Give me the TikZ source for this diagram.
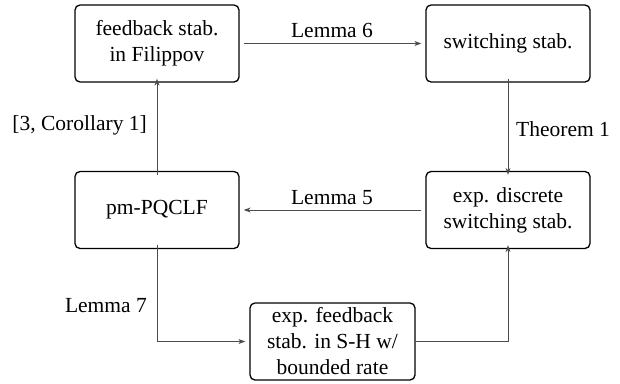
\documentclass[tikz,border=0pt]{standalone}
\usepackage{fontspec}
\setmainfont{Liberation Serif}
\newfontfamily\tmsfont{Liberation Serif}
\usetikzlibrary{arrows.meta}
\begin{document}
\begin{tikzpicture}[x=1pt,y=-1pt,
  box/.style={draw=black,line width=1.3pt,rounded corners=5pt,minimum width=164pt,minimum height=77pt,align=center,inner sep=0pt,font=\tmsfont\fontsize{21.5}{26}\selectfont},
  conn/.style={draw=black!70,line width=0.9pt,-{Stealth[length=7pt,width=5pt]}},
  lab/.style={font=\tmsfont\fontsize{21.5}{26}\selectfont,inner sep=0pt}]
\useasboundingbox (0,0) rectangle (620,383);
\node[box] (fil) at (157,43.5) {feedback stab.\\in Filippov};
\node[box] (sw) at (508,43.5) {switching stab.};
\node[box] (pm) at (157,210) {pm-PQCLF};
\node[box] (ed) at (508,210) {exp. discrete\\switching stab.};
\node[box,minimum width=165pt] (sh) at (332.5,341.5) {exp. feedback\\stab. in S-H w/\\bounded rate};
\draw[conn] ([xshift=4pt]fil.east) -- ([xshift=-4pt]sw.west);
\node[lab,anchor=base] (l6) at (332,37) {Lemma 6};
\draw[conn] ([yshift=4pt]sw.south) -- ([yshift=-4pt]ed.north);
\node[lab,anchor=base west] (t1) at (516,136) {Theorem 1};
\draw[conn] ([xshift=-4pt]ed.west) -- ([xshift=4pt]pm.east);
\node[lab,anchor=base] (l5) at (332,204) {Lemma 5};
\draw[conn] ([yshift=-4pt]pm.north) -- ([yshift=4pt]fil.south);
\node[lab,anchor=base east] (c1) at (147,130) {[3, Corollary 1]};
\draw[conn] ([yshift=4pt]pm.south) |- ([xshift=-4pt]sh.west);
\node[lab,anchor=base east] (l7) at (147,312) {Lemma 7};
\draw[conn] (sh.east) -| ([yshift=4pt]ed.south);
\end{tikzpicture}
\end{document}
